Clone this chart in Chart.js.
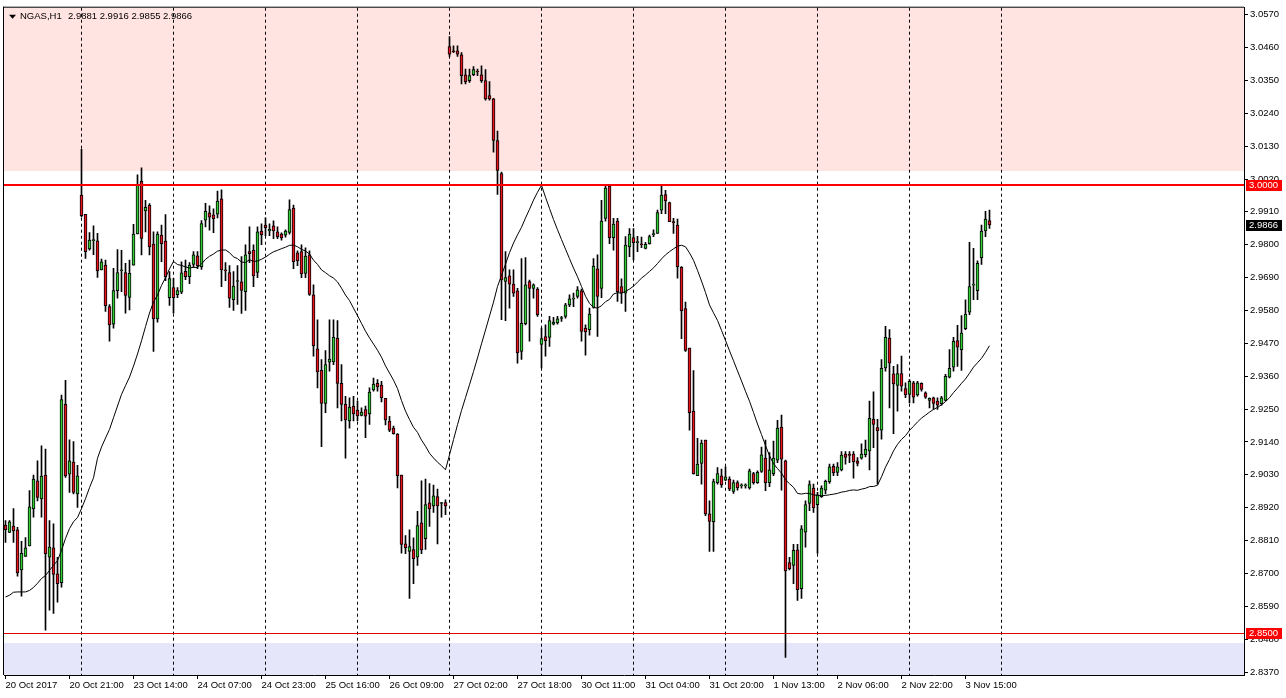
<!DOCTYPE html>
<html><head><meta charset="utf-8">
<script src="https://cdn.jsdelivr.net/npm/chart.js@4.4.0/dist/chart.umd.min.js"></script>
<style>html,body{margin:0;padding:0;background:#fff;overflow:hidden}#wrap{position:relative;width:1286px;height:698px}</style>
</head><body><div id="wrap"><canvas id="c" width="1286" height="698"></canvas></div>
<script>
// ---------- data ----------
const symbolName = 'NGAS,H1';
const openP = [
2.8862,2.8837,2.8858,2.8846,2.8712,2.8757,2.8792,2.8916,2.9010,2.8949,
2.9029,2.8754,2.8786,2.8699,2.8669,2.9266,2.9032,2.9073,2.8966,2.9966,
2.9902,2.9786,2.9814,2.9813,2.9716,2.9732,2.9593,2.9534,2.9646,2.9713,
2.9707,2.9624,2.9732,2.9836,3.0012,2.9913,2.9932,2.9802,2.9552,2.9832,
2.9812,2.9623,2.9657,2.9633,2.9641,2.9711,2.9693,2.9734,2.9763,2.9727,
2.9882,2.9907,2.9900,2.9902,2.9954,2.9716,2.9707,2.9616,2.9677,2.9676,
2.9643,2.9777,2.9782,2.9707,2.9846,2.9866,2.9846,2.9863,2.9843,2.9836,
2.9832,2.9841,2.9923,2.9773,2.9777,2.9704,2.9766,2.9632,2.9452,2.9380,
2.9269,2.9407,2.9408,2.9487,2.9336,2.9266,2.9210,2.9259,2.9247,2.9229,
2.9248,2.9234,2.9314,2.9336,2.9330,2.9286,2.9210,2.9186,2.9166,2.9029,
2.8799,2.8774,2.8780,2.8754,2.8869,2.8816,2.8936,2.8926,2.8957,2.8934,
2.8937,3.0463,3.0449,3.0449,3.0436,3.0369,3.0349,3.0369,3.0380,3.0369,
3.0349,3.0299,3.0288,3.0149,3.0038,2.9677,2.9696,2.9668,2.9646,2.9443,
2.9536,2.9677,2.9654,2.9652,2.9466,2.9493,2.9490,2.9534,2.9538,2.9553,
2.9560,2.9599,2.9618,2.9627,2.9646,2.9521,2.9516,2.9590,2.9719,2.9654,
2.9888,2.9996,2.9824,2.9879,2.9660,2.9638,2.9793,2.9824,2.9807,2.9802,
2.9788,2.9804,2.9834,2.9838,2.9916,2.9968,2.9941,2.9877,2.9866,2.9724,
2.9586,2.9454,2.9243,2.9027,2.9068,2.9146,2.8899,2.8873,2.9004,2.9027,
2.9012,2.9016,2.8974,2.9004,2.8993,2.8993,2.8986,2.9034,2.9004,2.9041,
2.9086,2.9004,2.9034,2.9079,2.9190,2.9077,2.8736,2.8727,2.8779,2.8649,
2.8838,2.8934,2.8986,2.8930,2.8957,2.8979,2.9007,2.9058,2.9038,2.9046,
2.9099,2.9096,2.9099,2.9077,2.9086,2.9097,2.9110,2.9216,2.9188,2.9179,
2.9388,2.9488,2.9368,2.9329,2.9369,2.9319,2.9299,2.9338,2.9297,2.9336,
2.9304,2.9279,2.9288,2.9277,2.9268,2.9279,2.9357,2.9390,2.9479,2.9449,
2.9519,2.9574,2.9665,2.9646,2.9757,2.9846,2.9881];
const highP = [
2.8877,2.8877,2.8917,2.8854,2.8807,2.8820,2.8977,2.9029,2.9077,2.9127,
2.9116,2.8877,2.8866,2.8754,2.9297,2.9346,2.9147,2.9141,2.9062,3.0119,
2.9902,2.9841,2.9863,2.9838,2.9752,2.9749,2.9600,2.9721,2.9784,2.9781,
2.9738,2.9749,2.9868,3.0034,3.0057,2.9949,2.9938,2.9843,2.9843,2.9866,
2.9901,2.9710,2.9688,2.9657,2.9743,2.9749,2.9740,2.9777,2.9777,2.9881,
2.9939,2.9930,2.9920,2.9980,2.9984,2.9740,2.9730,2.9710,2.9730,2.9760,
2.9800,2.9860,2.9800,2.9860,2.9870,2.9890,2.9870,2.9880,2.9860,2.9840,
2.9850,2.9950,2.9933,2.9780,2.9800,2.9790,2.9780,2.9666,2.9549,2.9416,
2.9446,2.9549,2.9549,2.9546,2.9399,2.9293,2.9288,2.9293,2.9277,2.9254,
2.9260,2.9321,2.9354,2.9349,2.9343,2.9286,2.9226,2.9193,2.9168,2.9029,
2.8827,2.8846,2.8819,2.8908,2.9010,2.9016,2.9001,2.8996,2.8982,2.8938,
2.8946,3.0497,3.0466,3.0466,3.0443,3.0388,3.0388,3.0396,3.0388,3.0399,
3.0386,3.0346,3.0290,3.0180,3.0043,2.9777,2.9716,2.9716,2.9654,2.9754,
2.9757,2.9682,2.9669,2.9657,2.9521,2.9532,2.9560,2.9557,2.9560,2.9560,
2.9604,2.9632,2.9638,2.9660,2.9652,2.9532,2.9588,2.9754,2.9766,2.9949,
2.9997,2.9999,2.9888,2.9888,2.9686,2.9827,2.9854,2.9854,2.9828,2.9826,
2.9808,2.9832,2.9850,2.9916,2.9997,2.9982,2.9943,2.9888,2.9886,2.9727,
2.9608,2.9454,2.9379,2.9152,2.9146,2.9146,2.8943,2.9016,2.9054,2.9049,
2.9057,2.9023,2.9012,2.9010,2.9000,2.9000,2.9049,2.9038,2.9043,2.9123,
2.9146,2.9104,2.9143,2.9212,2.9230,2.9079,2.8754,2.8797,2.8797,2.8860,
2.8943,2.9010,2.8999,2.8971,2.8993,2.9012,2.9066,2.9066,2.9071,2.9108,
2.9108,2.9108,2.9108,2.9088,2.9134,2.9146,2.9277,2.9308,2.9216,2.9416,
2.9527,2.9516,2.9393,2.9399,2.9427,2.9338,2.9349,2.9343,2.9343,2.9338,
2.9308,2.9288,2.9290,2.9288,2.9293,2.9366,2.9449,2.9490,2.9530,2.9563,
2.9616,2.9808,2.9788,2.9746,2.9866,2.9912,2.9916];
const lowP = [
2.8804,2.8836,2.8804,2.8691,2.8624,2.8757,2.8792,2.8888,2.8943,2.8888,
2.8510,2.8577,2.8566,2.8604,2.8654,2.9021,2.8971,2.8966,2.8921,2.9893,
2.9754,2.9782,2.9767,2.9691,2.9716,2.9577,2.9477,2.9521,2.9621,2.9643,
2.9571,2.9582,2.9732,2.9836,2.9766,2.9843,2.9766,2.9443,2.9541,2.9743,
2.9680,2.9597,2.9571,2.9623,2.9636,2.9683,2.9670,2.9724,2.9720,2.9717,
2.9860,2.9849,2.9840,2.9890,2.9660,2.9680,2.9590,2.9580,2.9600,2.9570,
2.9580,2.9740,2.9660,2.9690,2.9800,2.9830,2.9830,2.9820,2.9820,2.9815,
2.9825,2.9835,2.9720,2.9730,2.9690,2.9690,2.9630,2.9427,2.9321,2.9124,
2.9238,2.9377,2.9399,2.9254,2.9210,2.9086,2.9186,2.9210,2.9210,2.9227,
2.9154,2.9199,2.9310,2.9310,2.9274,2.9197,2.9174,2.9166,2.8986,2.8768,
2.8766,2.8616,2.8666,2.8727,2.8766,2.8780,2.8857,2.8904,2.8799,2.8888,
2.8897,3.0430,3.0443,3.0430,3.0338,3.0338,3.0343,3.0366,3.0366,3.0343,
3.0284,3.0284,3.0110,2.9968,2.9549,2.9546,2.9588,2.9627,2.9404,2.9416,
2.9532,2.9477,2.9621,2.9560,2.9388,2.9427,2.9460,2.9532,2.9534,2.9543,
2.9554,2.9593,2.9593,2.9621,2.9477,2.9430,2.9497,2.9588,2.9493,2.9623,
2.9879,2.9804,2.9782,2.9610,2.9604,2.9577,2.9760,2.9749,2.9777,2.9790,
2.9786,2.9802,2.9827,2.9838,2.9904,2.9904,2.9877,2.9838,2.9688,2.9486,
2.9443,2.9179,2.9032,2.9027,2.8999,2.8893,2.8774,2.8774,2.8999,2.8988,
2.9010,2.8977,2.8968,2.8979,2.8985,2.8985,2.8982,2.8999,2.9001,2.9038,
2.8977,2.8990,2.9027,2.9071,2.8979,2.8419,2.8712,2.8666,2.8610,2.8616,
2.8788,2.8910,2.8904,2.8767,2.8954,2.8966,2.9001,2.9027,2.9027,2.9043,
2.9066,2.9071,2.9019,2.9060,2.9082,2.9090,2.9046,2.9121,2.8999,2.9149,
2.9377,2.9254,2.9168,2.9243,2.9310,2.9288,2.9271,2.9271,2.9293,2.9310,
2.9286,2.9254,2.9249,2.9249,2.9263,2.9277,2.9354,2.9377,2.9393,2.9379,
2.9516,2.9566,2.9616,2.9616,2.9734,2.9827,2.9855];
const closeP = [
2.8846,2.8873,2.8842,2.8702,2.8767,2.8786,2.8923,2.9016,2.8954,2.9026,
2.8766,2.8788,2.8697,2.8666,2.9282,2.9026,2.9077,2.8971,2.9027,2.9897,
2.9777,2.9816,2.9815,2.9712,2.9743,2.9596,2.9532,2.9647,2.9707,2.9714,
2.9630,2.9704,2.9836,3.0001,2.9821,2.9925,2.9793,2.9552,2.9836,2.9804,
2.9693,2.9687,2.9623,2.9647,2.9706,2.9693,2.9732,2.9766,2.9730,2.9871,
2.9912,2.9892,2.9887,2.9946,2.9716,2.9712,2.9621,2.9662,2.9678,2.9647,
2.9766,2.9770,2.9696,2.9843,2.9834,2.9857,2.9852,2.9846,2.9827,2.9823,
2.9846,2.9918,2.9743,2.9746,2.9702,2.9762,2.9634,2.9462,2.9374,2.9269,
2.9399,2.9417,2.9490,2.9336,2.9266,2.9214,2.9257,2.9234,2.9227,2.9240,
2.9226,2.9307,2.9334,2.9324,2.9288,2.9214,2.9179,2.9168,2.9027,2.8797,
2.8786,2.8790,2.8749,2.8860,2.8779,2.8930,2.8916,2.8960,2.8926,2.8934,
2.8926,3.0438,3.0446,3.0438,3.0366,3.0346,3.0366,3.0386,3.0378,3.0349,
3.0288,3.0288,3.0149,3.0049,2.9682,2.9690,2.9668,2.9638,2.9438,2.9537,
2.9666,2.9654,2.9666,2.9566,2.9486,2.9479,2.9546,2.9541,2.9552,2.9556,
2.9599,2.9619,2.9621,2.9649,2.9510,2.9508,2.9568,2.9729,2.9627,2.9879,
2.9990,2.9824,2.9869,2.9643,2.9638,2.9799,2.9836,2.9807,2.9807,2.9800,
2.9801,2.9827,2.9836,2.9908,2.9966,2.9947,2.9877,2.9874,2.9727,2.9579,
2.9446,2.9238,2.9034,2.9066,2.9136,2.8899,2.8874,2.9007,2.9034,2.8996,
2.9023,2.8982,2.9004,2.8986,2.8993,2.8994,2.9043,2.9004,2.9038,2.9097,
2.9004,2.9047,2.9086,2.9186,2.9082,2.8708,2.8716,2.8777,2.8646,2.8849,
2.8930,2.8997,2.8919,2.8963,2.8986,2.9008,2.9057,2.9036,2.9057,2.9096,
2.9088,2.9095,2.9074,2.9068,2.9099,2.9116,2.9219,2.9199,2.9177,2.9386,
2.9490,2.9404,2.9334,2.9369,2.9327,2.9297,2.9343,2.9290,2.9338,2.9316,
2.9290,2.9286,2.9269,2.9263,2.9288,2.9360,2.9386,2.9477,2.9457,2.9504,
2.9568,2.9660,2.9666,2.9738,2.9846,2.9886,2.9866];
// moving average (24) values for the first bars (their window starts before the chart)
const maHead = [2.8621,2.8627,2.8637,2.8638,2.8638,2.8638,2.8643,2.8653,2.8667,2.8683,
2.8693,2.8710,2.8727,2.8743,2.8777,2.8817,2.8850,2.8873,2.8887,2.8917,2.8950,2.8987,2.9020];
const maPeriod = 24;
const xTickIdx = [0,16,32,48,64,80,96,112,128,144,160,176,192,208,224,240];
const xTickLabels = ['20 Oct 2017','20 Oct 21:00','23 Oct 14:00','24 Oct 07:00','24 Oct 23:00','25 Oct 16:00',
 '26 Oct 09:00','27 Oct 02:00','27 Oct 18:00','30 Oct 11:00','31 Oct 04:00','31 Oct 20:00','1 Nov 13:00',
 '2 Nov 06:00','2 Nov 22:00','3 Nov 15:00'];
const gridIdx = [19,42,65,88,111,134,157,180,203,226,249];
const yTickValues = [3.0570,3.0460,3.0350,3.0240,3.0130,3.0020,2.9910,2.9800,2.9690,2.9580,2.9470,
 2.9360,2.9250,2.9140,2.9030,2.8920,2.8810,2.8700,2.8590,2.8480,2.8370];
const levelLines = [3.0000, 2.8500];
const supplyZone = [3.0047, 3.1000];
const demandZone = [2.8000, 2.8468];

// ---------- styles ----------
const FONT = '"Liberation Sans", Arial, sans-serif';
const FS = 9.5;
const BULL = '#32CD32', BEAR = '#E8141E';
const X_MIN = -0.375, X_MAX = 309.625, Y_MIN = 2.836, Y_MAX = 3.0593333;

const idx = openP.map((_, i) => i);
const ma = idx.map(i => {
  if (i < maPeriod - 1) return maHead[i];
  let s = 0; for (let k = i - maPeriod + 1; k <= i; k++) s += closeP[k];
  return s / maPeriod;
});

const mt4Plugin = {
  id: 'mt4',
  beforeDraw(chart) {
    const {ctx, chartArea: a} = chart; const y = chart.scales.y;
    ctx.save();
    ctx.fillStyle = '#fff'; ctx.fillRect(0, 0, chart.width, chart.height);
    const zone = (z, col) => {
      const t = Math.max(a.top, Math.round(y.getPixelForValue(z[1])));
      const b = Math.min(a.bottom, Math.round(y.getPixelForValue(z[0])));
      ctx.fillStyle = col; ctx.fillRect(a.left, t, a.right - a.left, b - t);
    };
    zone(supplyZone, '#FFE4E1');
    zone(demandZone, '#E6E6FA');
    ctx.restore();
  },
  afterDatasetsDraw(chart) {
    const {ctx, chartArea: a} = chart; const y = chart.scales.y;
    ctx.save();
    ctx.fillStyle = '#FF0000';
    let py = Math.round(y.getPixelForValue(levelLines[0]));
    ctx.fillRect(a.left, py - 1, a.right - a.left, 2);
    ctx.fillStyle = '#E00000';
    py = Math.round(y.getPixelForValue(levelLines[1]));
    ctx.fillRect(a.left, py, a.right - a.left, 1);
    ctx.restore();
  },
  afterDraw(chart) {
    const {ctx, chartArea: a} = chart; const y = chart.scales.y;
    ctx.save();
    // frame (left/top)
    ctx.fillStyle = '#000';
    ctx.fillRect(a.left - 1, a.top - 1, a.right - a.left + 1, 1);
    ctx.fillRect(a.left - 1, a.top - 1, 1, a.bottom - a.top + 1);
    // price boxes
    ctx.font = FS + 'px ' + FONT; ctx.textBaseline = 'middle'; ctx.textAlign = 'left';
    const box = (v, bg) => {
      const py = Math.round(y.getPixelForValue(v));
      ctx.fillStyle = bg; ctx.fillRect(a.right + 2, py - 5, 36, 11);
      ctx.fillStyle = '#fff'; ctx.fillText(v.toFixed(4), a.right + 5, py + 0.5);
    };
    box(levelLines[0], '#FF0000');
    box(levelLines[1], '#FF0000');
    box(closeP[closeP.length - 1], '#000');
    // header
    const n = openP.length - 1;
    ctx.fillStyle = '#000';
    ctx.beginPath(); ctx.moveTo(a.left + 5, a.top + 7); ctx.lineTo(a.left + 12, a.top + 7); ctx.lineTo(a.left + 8.5, a.top + 11); ctx.closePath(); ctx.fill();
    ctx.fillStyle = '#000';
    ctx.fillText(symbolName, a.left + 16, a.top + 9);
    const vals = [openP[n], highP[n], lowP[n], closeP[n]].map(v => v.toFixed(4)).join(' ');
    ctx.fillText(vals, a.left + 64, a.top + 9);
    ctx.restore();
  }
};

new Chart(document.getElementById('c'), {
  type: 'bar',
  data: {
    datasets: [
      { type: 'line', label: 'MA', data: idx.map(i => ({x: i, y: ma[i]})), borderColor: '#000', borderWidth: 1,
        pointRadius: 0, tension: 0, order: 1, xAxisID: 'x', yAxisID: 'y' },
      { label: 'body', data: idx.map(i => ({x: i, y: [openP[i], closeP[i]]})),
        backgroundColor: idx.map(i => closeP[i] >= openP[i] ? BULL : BEAR),
        borderColor: '#000', borderWidth: 1, borderSkipped: false, barThickness: 3, minBarLength: 1,
        grouped: false, order: 2, xAxisID: 'x', yAxisID: 'y' },
      { label: 'wick', data: idx.map(i => ({x: i, y: [lowP[i], highP[i]]})),
        backgroundColor: '#000', borderWidth: 0, barThickness: 1, grouped: false, order: 3, xAxisID: 'x', yAxisID: 'y' }
    ]
  },
  options: {
    responsive: false, animation: false, devicePixelRatio: 1, events: [],
    layout: { padding: { left: 4, top: 5, right: 0, bottom: 0 } },
    plugins: { legend: { display: false }, tooltip: { enabled: false } },
    scales: {
      x: {
        type: 'linear', axis: 'x', position: 'bottom', min: X_MIN, max: X_MAX, offset: false,
        afterBuildTicks: s => { s.ticks = xTickIdx.map(v => ({value: v})); },
        afterFit: s => { s.height = 23; },
        ticks: { autoSkip: false, maxRotation: 0, minRotation: 0, align: 'start', padding: 1, color: '#000',
          font: { family: FONT, size: FS }, callback: v => xTickLabels[xTickIdx.indexOf(v)] },
        grid: { offset: false, drawOnChartArea: false, drawTicks: true, tickLength: 4, color: '#000', tickColor: '#000' },
        border: { display: true, color: '#000', width: 1 }
      },
      xg: {
        type: 'linear', axis: 'x', position: 'bottom', min: X_MIN, max: X_MAX, offset: false,
        afterBuildTicks: s => { s.ticks = gridIdx.map(v => ({value: v})); },
        afterFit: s => { s.height = 0; },
        ticks: { display: false },
        grid: { offset: false, drawOnChartArea: true, drawTicks: false, color: '#000', lineWidth: 1 },
        border: { display: false, dash: [3, 3] }
      },
      y: {
        type: 'linear', position: 'right', min: Y_MIN, max: Y_MAX,
        afterBuildTicks: s => { s.ticks = yTickValues.map(v => ({value: v})); },
        afterFit: s => { s.width = 42; },
        ticks: { autoSkip: false, padding: 2, color: '#000', font: { family: FONT, size: FS }, callback: v => Number(v).toFixed(4) },
        grid: { drawOnChartArea: false, drawTicks: true, tickLength: 4, color: '#000', tickColor: '#000' },
        border: { display: true, color: '#000', width: 1 }
      }
    }
  },
  plugins: [mt4Plugin]
});
</script></body></html>
